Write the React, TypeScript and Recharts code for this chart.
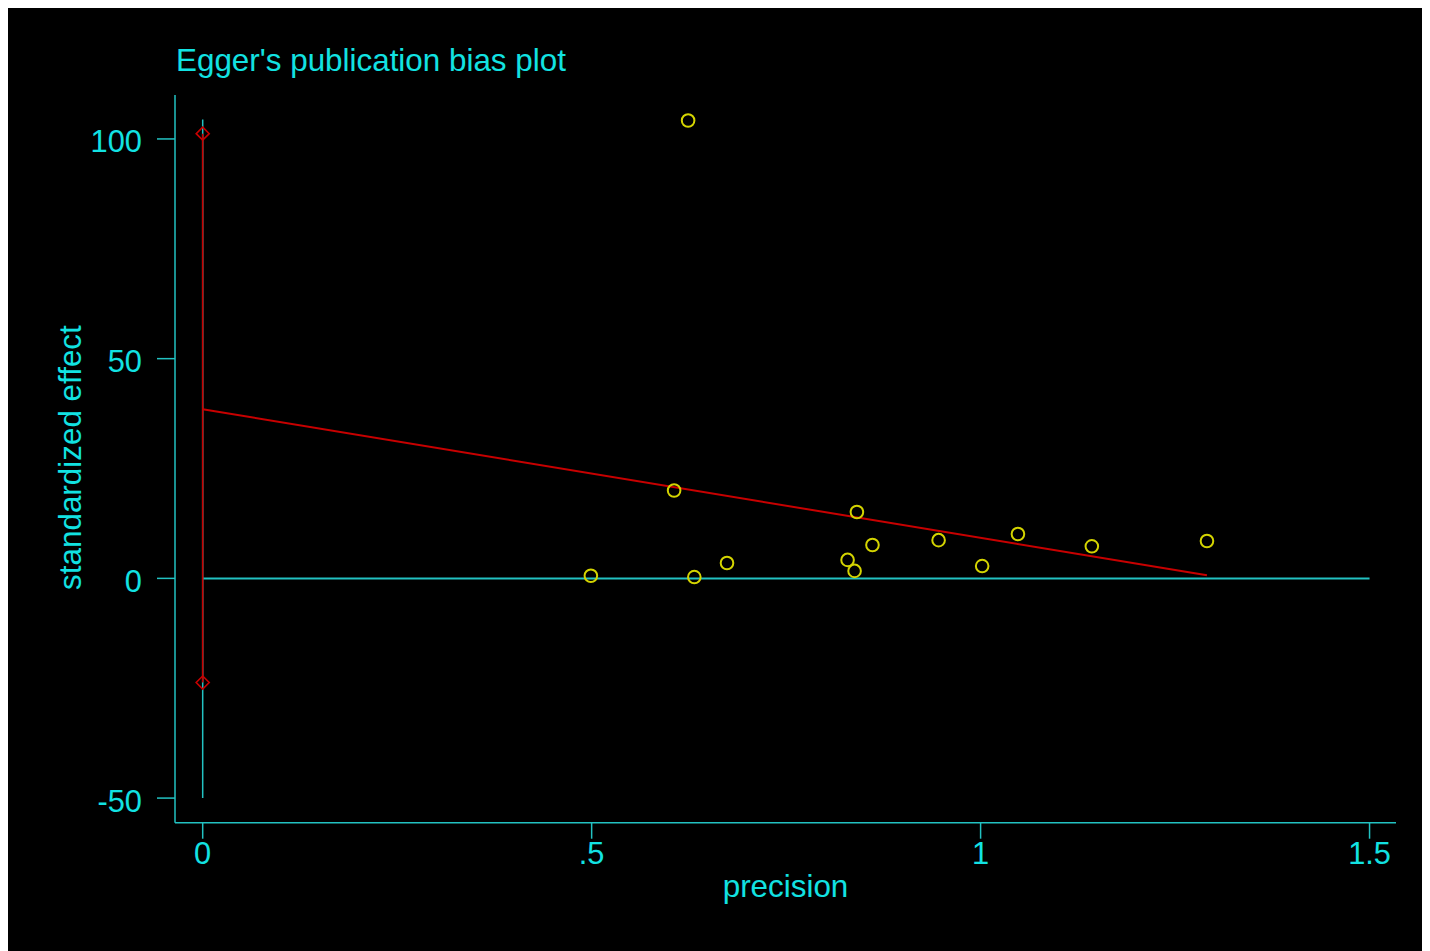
import React from "react";
import { ScatterChart, Scatter, XAxis, YAxis, ReferenceLine } from "recharts";

// study points: precision vs standardized effect
const precision = [0.624, 0.606, 0.499, 0.632, 0.674, 0.829, 0.838, 0.841, 0.861, 0.946, 1.002, 1.048, 1.143, 1.291];
const stdEffect = [104.2, 20.0, 0.6, 0.3, 3.5, 4.2, 1.7, 15.1, 7.6, 8.7, 2.8, 10.1, 7.3, 8.5];

// Egger regression line
const regX = [0, 1.291];
const regY = [38.5, 0.7];

// intercept confidence interval (at precision 0)
const ciX = [0, 0];
const ciY = [-23.7, 101.2];

// reference lines
const zeroLineX = [0, 1.5];
const zeroLineY = [0, 0];
const vertLineX = [0, 0];
const vertLineY = [-50, 104.4];

const xTicks = [0, 0.5, 1, 1.5];
const xTickLabels = ["0", ".5", "1", "1.5"];
const yTicks = [-50, 0, 50, 100];
const yTickLabels = ["-50", "0", "50", "100"];

const title = "Egger's publication bias plot";
const xLabel = "precision";
const yLabel = "standardized effect";

const TEXT = "#12e2e2";
const AXIS = "#22c2c2";
const RED = "#c80000";
const YELLOW = "#d4d400";
const FONT = "'Liberation Sans', Arial, sans-serif";
const TICK_FS = 30.8;
const LABEL_FS = 31.4;

const pts = (xs: number[], ys: number[]) => xs.map((x, i) => ({ x, y: ys[i] }));

const studyData = pts(precision, stdEffect);
const regData = pts(regX, regY);
const ciData = pts(ciX, ciY);

const Hollow = (props: any) => {
  const { cx, cy } = props;
  if (cx == null || cy == null) return <g />;
  return <circle cx={cx} cy={cy} r={6.3} fill="none" stroke={YELLOW} strokeWidth={2} />;
};

const Diamond = (props: any) => {
  const { cx, cy } = props;
  if (cx == null || cy == null) return <g />;
  const s = 6.5;
  return (
    <path
      d={`M${cx},${cy - s} L${cx + s},${cy} L${cx},${cy + s} L${cx - s},${cy} Z`}
      fill="none"
      stroke={RED}
      strokeWidth={1.6}
    />
  );
};

const Empty = () => <g />;

const XTick = (props: any) => {
  const { x, y, payload } = props;
  const idx = xTicks.indexOf(payload.value);
  return (
    <text x={x} y={y + 25} textAnchor="middle" fill={TEXT} fontSize={TICK_FS} fontFamily={FONT}>
      {idx >= 0 ? xTickLabels[idx] : payload.value}
    </text>
  );
};

const YTick = (props: any) => {
  const { x, y, payload } = props;
  const idx = yTicks.indexOf(payload.value);
  return (
    <text x={x} y={y + 13.5} textAnchor="end" fill={TEXT} fontSize={TICK_FS} fontFamily={FONT}>
      {idx >= 0 ? yTickLabels[idx] : payload.value}
    </text>
  );
};

export default function App() {
  return (
    <div style={{ position: "relative", width: 1422, height: 943, background: "#000" }}>
      <style>{`html, body { overflow: hidden; }`}</style>
      <div
        style={{
          position: "absolute",
          left: 0,
          top: 0,
          width: 1440,
          height: 960,
          background: "#000",
        }}
      />
      <svg width={1422} height={943} style={{ position: "absolute", left: 0, top: 0, pointerEvents: "none" }}>
        <text x={168} y={62.5} fill={TEXT} fontSize={LABEL_FS} fontFamily={FONT}>
          {title}
        </text>
      </svg>
      <ScatterChart
        width={1422}
        height={943}
        margin={{ top: 87, right: 34, bottom: 48.3, left: 67 }}
        style={{ position: "absolute", left: 0, top: 0 }}
      >
        <XAxis
          type="number"
          dataKey="x"
          domain={[-0.0356, 1.534]}
          ticks={xTicks}
          allowDataOverflow
          height={80}
          stroke={AXIS}
          strokeWidth={1.5}
          tickSize={16}
          tickMargin={0}
          tickLine={{ stroke: AXIS, strokeWidth: 1.5 }}
          axisLine={{ stroke: AXIS, strokeWidth: 1.5 }}
          tick={<XTick />}
          label={{
            content: (p: any) => {
              const vb = p.viewBox || {};
              return (
                <text
                  x={vb.x + vb.width / 2}
                  y={vb.y + 74}
                  textAnchor="middle"
                  fill={TEXT}
                  fontSize={LABEL_FS}
                  fontFamily={FONT}
                >
                  {xLabel}
                </text>
              );
            },
          }}
        />
        <YAxis
          type="number"
          dataKey="y"
          domain={[-55.6, 110]}
          ticks={yTicks}
          allowDataOverflow
          width={100}
          stroke={AXIS}
          strokeWidth={1.5}
          tickSize={18}
          tickMargin={15}
          tickLine={{ stroke: AXIS, strokeWidth: 1.5 }}
          axisLine={{ stroke: AXIS, strokeWidth: 1.5 }}
          tick={<YTick />}
          label={{
            content: (p: any) => {
              const vb = p.viewBox || {};
              const cx = 73;
              const cy = vb.y + vb.height / 2 - 1.3;
              return (
                <text
                  x={cx}
                  y={cy}
                  transform={`rotate(-90, ${cx}, ${cy})`}
                  textAnchor="middle"
                  fill={TEXT}
                  fontSize={LABEL_FS}
                  fontFamily={FONT}
                >
                  {yLabel}
                </text>
              );
            },
          }}
        />
        <ReferenceLine
          segment={pts(vertLineX, vertLineY)}
          stroke={AXIS}
          strokeWidth={1.5}
          ifOverflow="visible"
        />
        <ReferenceLine
          segment={pts(zeroLineX, zeroLineY)}
          stroke={AXIS}
          strokeWidth={2}
          ifOverflow="visible"
        />
        <Scatter
          data={ciData}
          line={{ stroke: RED, strokeWidth: 1.6 }}
          shape={<Diamond />}
          isAnimationActive={false}
        />
        <Scatter
          data={regData}
          line={{ stroke: RED, strokeWidth: 2 }}
          shape={<Empty />}
          isAnimationActive={false}
        />
        <Scatter data={studyData} shape={<Hollow />} isAnimationActive={false} />
      </ScatterChart>
    </div>
  );
}
